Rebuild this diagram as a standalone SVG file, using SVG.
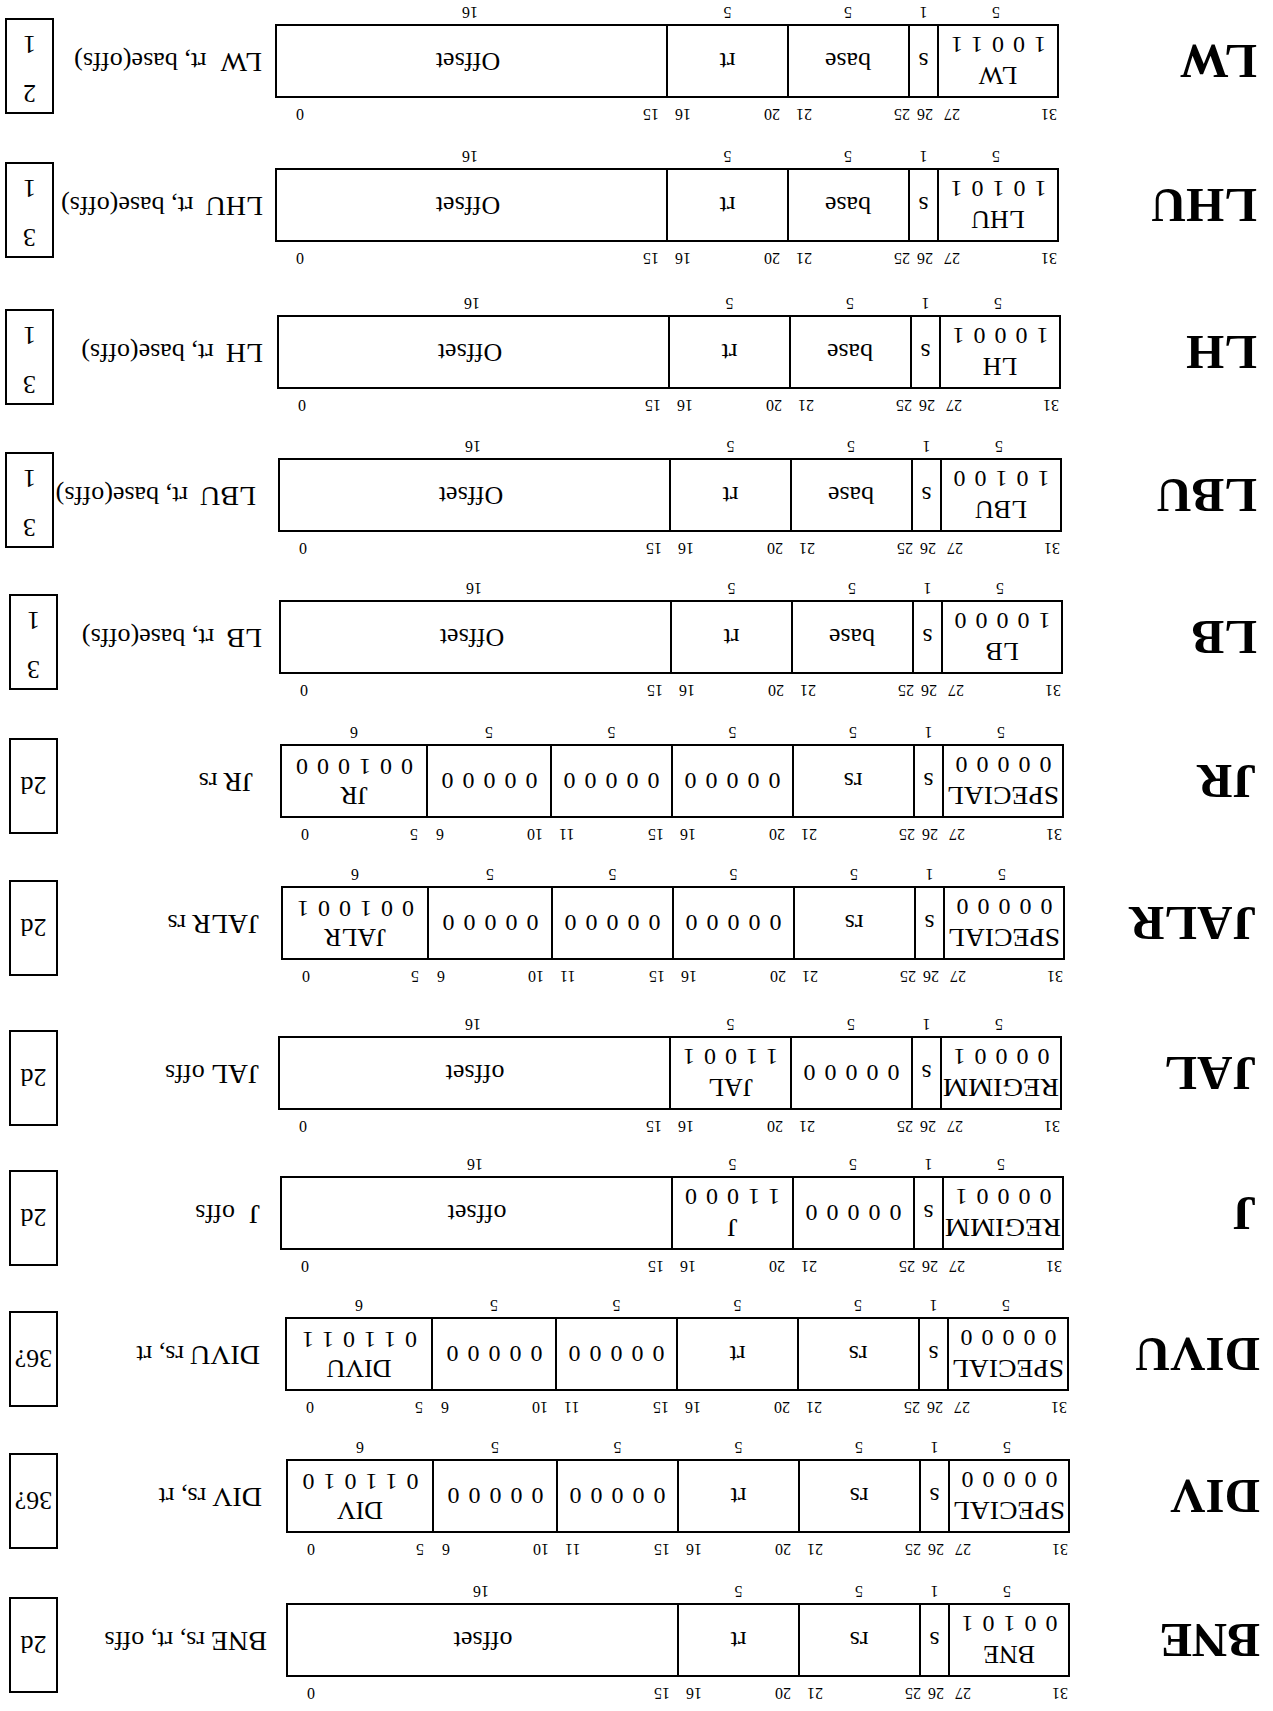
<svg xmlns="http://www.w3.org/2000/svg" width="1273" height="1711" viewBox="0 0 1273 1711">
<style>
.b{fill:none;stroke:#000;stroke-width:2}
text{font-family:"Liberation Serif","Times New Roman",serif;fill:#000}
.f{font-size:26px;text-anchor:middle}
.d{font-size:24px;letter-spacing:9px;text-anchor:middle}
.bn{font-size:16px}
.e{text-anchor:end}
.c{text-anchor:middle}
.w{font-size:16px;text-anchor:middle}
.m{font-size:49px;font-weight:bold}
.a{font-size:28px}
.o{font-size:26px}
.nb{font-size:26px;text-anchor:middle}
</style>
<defs>
<g id="frameI"><rect class="b" x="0" y="0" width="782" height="72"/><path class="b" d="M120 0V72M149 0V72M270 0V72M391 0V72"/></g>
<g id="frameR"><rect class="b" x="0" y="0" width="782" height="72"/><path class="b" d="M120 0V72M149 0V72M270 0V72M391 0V72M512 0V72M636 0V72"/></g>
</defs>
<g transform="rotate(180 636.5 855.5)">

<!-- BNE -->
<g id="BNE" transform="translate(0,35)">
<text class="m" x="13" y="52">BNE</text>
<g transform="translate(204,0)">
<use href="#frameI"/>
<text class="f" x="60" y="30">BNE</text><text class="d" x="64" y="60">00101</text>
<text class="f" x="134.5" y="44">s</text><text class="f" x="210" y="44">rs</text><text class="f" x="330.5" y="44">rt</text><text class="f" x="586" y="44">offset</text>
<text class="bn" x="1" y="-12">31</text><text class="bn e" x="114" y="-12">27</text><text class="bn c" x="133" y="-12">26</text><text class="bn" x="148" y="-12">25</text><text class="bn e" x="262" y="-12">21</text><text class="bn" x="278" y="-12">20</text><text class="bn e" x="383" y="-12">16</text><text class="bn" x="399" y="-12">15</text><text class="bn c" x="758" y="-12">0</text>
<text class="w" x="62" y="90">5</text><text class="w" x="134.5" y="90">1</text><text class="w" x="210" y="90">5</text><text class="w" x="330.5" y="90">5</text><text class="w" x="588" y="90">16</text>
</g>
<text class="a" x="1006" y="44">BNE<tspan class="o" dx="6">rs, rt, offs</tspan></text>
<rect class="b" x="1216" y="-16" width="47" height="94"/><text class="nb" x="1239.5" y="40">2d</text>
</g>

<!-- DIV -->
<g id="DIV" transform="translate(0,179)">
<text class="m" x="13" y="52">DIV</text>
<g transform="translate(204,0)">
<use href="#frameR"/>
<text class="f" x="60" y="30" textLength="112" lengthAdjust="spacingAndGlyphs">SPECIAL</text><text class="d" x="64" y="60">00000</text>
<text class="f" x="134.5" y="44">s</text><text class="f" x="210" y="44">rs</text><text class="f" x="330.5" y="44">rt</text>
<text class="d" x="456" y="44">00000</text><text class="d" x="578" y="44">00000</text>
<text class="f" x="709" y="30">DIV</text><text class="d" x="713" y="58">011010</text>
<text class="bn" x="1" y="-12">31</text><text class="bn e" x="114" y="-12">27</text><text class="bn c" x="133" y="-12">26</text><text class="bn" x="148" y="-12">25</text><text class="bn e" x="262" y="-12">21</text><text class="bn" x="278" y="-12">20</text><text class="bn e" x="383" y="-12">16</text><text class="bn" x="399" y="-12">15</text><text class="bn e" x="504" y="-12">11</text><text class="bn" x="520" y="-12">10</text><text class="bn e" x="627" y="-12">6</text><text class="bn" x="645" y="-12">5</text><text class="bn c" x="758" y="-12">0</text>
<text class="w" x="62" y="90">5</text><text class="w" x="134.5" y="90">1</text><text class="w" x="210" y="90">5</text><text class="w" x="330.5" y="90">5</text><text class="w" x="451.5" y="90">5</text><text class="w" x="574" y="90">5</text><text class="w" x="709" y="90">6</text>
</g>
<text class="a" x="1011" y="44">DIV<tspan class="o" dx="6">rs, rt</tspan></text>
<rect class="b" x="1216" y="-16" width="47" height="94"/><text class="nb" x="1239.5" y="40">36?</text>
</g>

<!-- DIVU -->
<g id="DIVU" transform="translate(0,321)">
<text class="m" x="13" y="52">DIVU</text>
<g transform="translate(205,0)">
<use href="#frameR"/>
<text class="f" x="60" y="30" textLength="112" lengthAdjust="spacingAndGlyphs">SPECIAL</text><text class="d" x="64" y="60">00000</text>
<text class="f" x="134.5" y="44">s</text><text class="f" x="210" y="44">rs</text><text class="f" x="330.5" y="44">rt</text>
<text class="d" x="456" y="44">00000</text><text class="d" x="578" y="44">00000</text>
<text class="f" x="709" y="30">DIVU</text><text class="d" x="713" y="58">011011</text>
<text class="bn" x="1" y="-12">31</text><text class="bn e" x="114" y="-12">27</text><text class="bn c" x="133" y="-12">26</text><text class="bn" x="148" y="-12">25</text><text class="bn e" x="262" y="-12">21</text><text class="bn" x="278" y="-12">20</text><text class="bn e" x="383" y="-12">16</text><text class="bn" x="399" y="-12">15</text><text class="bn e" x="504" y="-12">11</text><text class="bn" x="520" y="-12">10</text><text class="bn e" x="627" y="-12">6</text><text class="bn" x="645" y="-12">5</text><text class="bn c" x="758" y="-12">0</text>
<text class="w" x="62" y="90">5</text><text class="w" x="134.5" y="90">1</text><text class="w" x="210" y="90">5</text><text class="w" x="330.5" y="90">5</text><text class="w" x="451.5" y="90">5</text><text class="w" x="574" y="90">5</text><text class="w" x="709" y="90">6</text>
</g>
<text class="a" x="1013" y="44">DIVU<tspan class="o" dx="6">rs, rt</tspan></text>
<rect class="b" x="1216" y="-16" width="47" height="94"/><text class="nb" x="1239.5" y="40">36?</text>
</g>

<!-- J -->
<g id="J" transform="translate(0,462)">
<text class="m" x="16" y="52">J</text>
<g transform="translate(210,0)">
<use href="#frameI"/>
<text class="f" x="60" y="30" textLength="116" lengthAdjust="spacingAndGlyphs">REGIMM</text><text class="d" x="64" y="60">00001</text>
<text class="f" x="134.5" y="44">s</text><text class="d" x="214" y="44">00000</text>
<text class="f" x="330.5" y="30">J</text><text class="d" x="335" y="60">11000</text>
<text class="f" x="586" y="44">offset</text>
<text class="bn" x="1" y="-12">31</text><text class="bn e" x="114" y="-12">27</text><text class="bn c" x="133" y="-12">26</text><text class="bn" x="148" y="-12">25</text><text class="bn e" x="262" y="-12">21</text><text class="bn" x="278" y="-12">20</text><text class="bn e" x="383" y="-12">16</text><text class="bn" x="399" y="-12">15</text><text class="bn c" x="758" y="-12">0</text>
<text class="w" x="62" y="90">5</text><text class="w" x="134.5" y="90">1</text><text class="w" x="210" y="90">5</text><text class="w" x="330.5" y="90">5</text><text class="w" x="588" y="90">16</text>
</g>
<text class="a" x="1013" y="44">J<tspan class="o" dx="14">offs</tspan></text>
<rect class="b" x="1216" y="-16" width="47" height="94"/><text class="nb" x="1239.5" y="40">2d</text>
</g>

<!-- JAL -->
<g id="JAL" transform="translate(0,602)">
<text class="m" x="16" y="52">JAL</text>
<g transform="translate(212,0)">
<use href="#frameI"/>
<text class="f" x="60" y="30" textLength="116" lengthAdjust="spacingAndGlyphs">REGIMM</text><text class="d" x="64" y="60">00001</text>
<text class="f" x="134.5" y="44">s</text><text class="d" x="214" y="44">00000</text>
<text class="f" x="330.5" y="30">JAL</text><text class="d" x="335" y="60">11001</text>
<text class="f" x="586" y="44">offset</text>
<text class="bn" x="1" y="-12">31</text><text class="bn e" x="114" y="-12">27</text><text class="bn c" x="133" y="-12">26</text><text class="bn" x="148" y="-12">25</text><text class="bn e" x="262" y="-12">21</text><text class="bn" x="278" y="-12">20</text><text class="bn e" x="383" y="-12">16</text><text class="bn" x="399" y="-12">15</text><text class="bn c" x="758" y="-12">0</text>
<text class="w" x="62" y="90">5</text><text class="w" x="134.5" y="90">1</text><text class="w" x="210" y="90">5</text><text class="w" x="330.5" y="90">5</text><text class="w" x="588" y="90">16</text>
</g>
<text class="a" x="1014" y="44">JAL<tspan class="o" dx="6">offs</tspan></text>
<rect class="b" x="1216" y="-16" width="47" height="94"/><text class="nb" x="1239.5" y="40">2d</text>
</g>

<!-- JALR -->
<g id="JALR" transform="translate(0,752)">
<text class="m" x="16" y="52">JALR</text>
<g transform="translate(209,0)">
<use href="#frameR"/>
<text class="f" x="60" y="30" textLength="112" lengthAdjust="spacingAndGlyphs">SPECIAL</text><text class="d" x="64" y="60">00000</text>
<text class="f" x="134.5" y="44">s</text><text class="f" x="210" y="44">rs</text><text class="d" x="335" y="44">00000</text>
<text class="d" x="456" y="44">00000</text><text class="d" x="578" y="44">00000</text>
<text class="f" x="709" y="30">JALR</text><text class="d" x="713" y="58">001001</text>
<text class="bn" x="1" y="-12">31</text><text class="bn e" x="114" y="-12">27</text><text class="bn c" x="133" y="-12">26</text><text class="bn" x="148" y="-12">25</text><text class="bn e" x="262" y="-12">21</text><text class="bn" x="278" y="-12">20</text><text class="bn e" x="383" y="-12">16</text><text class="bn" x="399" y="-12">15</text><text class="bn e" x="504" y="-12">11</text><text class="bn" x="520" y="-12">10</text><text class="bn e" x="627" y="-12">6</text><text class="bn" x="645" y="-12">5</text><text class="bn c" x="758" y="-12">0</text>
<text class="w" x="62" y="90">5</text><text class="w" x="134.5" y="90">1</text><text class="w" x="210" y="90">5</text><text class="w" x="330.5" y="90">5</text><text class="w" x="451.5" y="90">5</text><text class="w" x="574" y="90">5</text><text class="w" x="709" y="90">6</text>
</g>
<text class="a" x="1014" y="44">JALR<tspan class="o" dx="6">rs</tspan></text>
<rect class="b" x="1216" y="-16" width="47" height="94"/><text class="nb" x="1239.5" y="40">2d</text>
</g>

<!-- JR -->
<g id="JR" transform="translate(0,894)">
<text class="m" x="16" y="52">JR</text>
<g transform="translate(210,0)">
<use href="#frameR"/>
<text class="f" x="60" y="30" textLength="112" lengthAdjust="spacingAndGlyphs">SPECIAL</text><text class="d" x="64" y="60">00000</text>
<text class="f" x="134.5" y="44">s</text><text class="f" x="210" y="44">rs</text><text class="d" x="335" y="44">00000</text>
<text class="d" x="456" y="44">00000</text><text class="d" x="578" y="44">00000</text>
<text class="f" x="709" y="30">JR</text><text class="d" x="713" y="58">001000</text>
<text class="bn" x="1" y="-12">31</text><text class="bn e" x="114" y="-12">27</text><text class="bn c" x="133" y="-12">26</text><text class="bn" x="148" y="-12">25</text><text class="bn e" x="262" y="-12">21</text><text class="bn" x="278" y="-12">20</text><text class="bn e" x="383" y="-12">16</text><text class="bn" x="399" y="-12">15</text><text class="bn e" x="504" y="-12">11</text><text class="bn" x="520" y="-12">10</text><text class="bn e" x="627" y="-12">6</text><text class="bn" x="645" y="-12">5</text><text class="bn c" x="758" y="-12">0</text>
<text class="w" x="62" y="90">5</text><text class="w" x="134.5" y="90">1</text><text class="w" x="210" y="90">5</text><text class="w" x="330.5" y="90">5</text><text class="w" x="451.5" y="90">5</text><text class="w" x="574" y="90">5</text><text class="w" x="709" y="90">6</text>
</g>
<text class="a" x="1020" y="44">JR<tspan class="o" dx="6">rs</tspan></text>
<rect class="b" x="1216" y="-16" width="47" height="94"/><text class="nb" x="1239.5" y="40">2d</text>
</g>

<!-- LB -->
<g id="LB" transform="translate(0,1038)">
<text class="m" x="16" y="52">LB</text>
<g transform="translate(211,0)">
<use href="#frameI"/>
<text class="f" x="60" y="30">LB</text><text class="d" x="64" y="60">10000</text>
<text class="f" x="134.5" y="44">s</text><text class="f" x="210" y="44">base</text><text class="f" x="330.5" y="44">rt</text><text class="f" x="590" y="44">Offset</text>
<text class="bn" x="1" y="-12">31</text><text class="bn e" x="114" y="-12">27</text><text class="bn c" x="133" y="-12">26</text><text class="bn" x="148" y="-12">25</text><text class="bn e" x="262" y="-12">21</text><text class="bn" x="278" y="-12">20</text><text class="bn e" x="383" y="-12">16</text><text class="bn" x="399" y="-12">15</text><text class="bn c" x="758" y="-12">0</text>
<text class="w" x="62" y="90">5</text><text class="w" x="134.5" y="90">1</text><text class="w" x="210" y="90">5</text><text class="w" x="330.5" y="90">5</text><text class="w" x="588" y="90">16</text>
</g>
<text class="a" x="1011" y="44">LB<tspan class="o" dx="12">rt, base(offs)</tspan></text>
<rect class="b" x="1216" y="-16" width="47" height="94"/><text class="nb" x="1239.5" y="12">3</text><text class="nb" x="1239.5" y="61">1</text>
</g>

<!-- LBU -->
<g id="LBU" transform="translate(0,1180)">
<text class="m" x="16" y="52">LBU</text>
<g transform="translate(212,0)">
<use href="#frameI"/>
<text class="f" x="60" y="30">LBU</text><text class="d" x="64" y="60">10100</text>
<text class="f" x="134.5" y="44">s</text><text class="f" x="210" y="44">base</text><text class="f" x="330.5" y="44">rt</text><text class="f" x="590" y="44">Offset</text>
<text class="bn" x="1" y="-12">31</text><text class="bn e" x="114" y="-12">27</text><text class="bn c" x="133" y="-12">26</text><text class="bn" x="148" y="-12">25</text><text class="bn e" x="262" y="-12">21</text><text class="bn" x="278" y="-12">20</text><text class="bn e" x="383" y="-12">16</text><text class="bn" x="399" y="-12">15</text><text class="bn c" x="758" y="-12">0</text>
<text class="w" x="62" y="90">5</text><text class="w" x="134.5" y="90">1</text><text class="w" x="210" y="90">5</text><text class="w" x="330.5" y="90">5</text><text class="w" x="588" y="90">16</text>
</g>
<text class="a" x="1017" y="44">LBU<tspan class="o" dx="12">rt, base(offs)</tspan></text>
<rect class="b" x="1220" y="-16" width="47" height="94"/><text class="nb" x="1243.5" y="12">3</text><text class="nb" x="1243.5" y="61">1</text>
</g>

<!-- LH -->
<g id="LH" transform="translate(0,1323)">
<text class="m" x="16" y="52">LH</text>
<g transform="translate(213,0)">
<use href="#frameI"/>
<text class="f" x="60" y="30">LH</text><text class="d" x="64" y="60">10001</text>
<text class="f" x="134.5" y="44">s</text><text class="f" x="210" y="44">base</text><text class="f" x="330.5" y="44">rt</text><text class="f" x="590" y="44">Offset</text>
<text class="bn" x="1" y="-12">31</text><text class="bn e" x="114" y="-12">27</text><text class="bn c" x="133" y="-12">26</text><text class="bn" x="148" y="-12">25</text><text class="bn e" x="262" y="-12">21</text><text class="bn" x="278" y="-12">20</text><text class="bn e" x="383" y="-12">16</text><text class="bn" x="399" y="-12">15</text><text class="bn c" x="758" y="-12">0</text>
<text class="w" x="62" y="90">5</text><text class="w" x="134.5" y="90">1</text><text class="w" x="210" y="90">5</text><text class="w" x="330.5" y="90">5</text><text class="w" x="588" y="90">16</text>
</g>
<text class="a" x="1010" y="44">LH<tspan class="o" dx="12">rt, base(offs)</tspan></text>
<rect class="b" x="1220" y="-16" width="47" height="94"/><text class="nb" x="1243.5" y="12">3</text><text class="nb" x="1243.5" y="61">1</text>
</g>

<!-- LHU -->
<g id="LHU" transform="translate(0,1470)">
<text class="m" x="16" y="52">LHU</text>
<g transform="translate(215,0)">
<use href="#frameI"/>
<text class="f" x="60" y="30">LHU</text><text class="d" x="64" y="60">10101</text>
<text class="f" x="134.5" y="44">s</text><text class="f" x="210" y="44">base</text><text class="f" x="330.5" y="44">rt</text><text class="f" x="590" y="44">Offset</text>
<text class="bn" x="1" y="-12">31</text><text class="bn e" x="114" y="-12">27</text><text class="bn c" x="133" y="-12">26</text><text class="bn" x="148" y="-12">25</text><text class="bn e" x="262" y="-12">21</text><text class="bn" x="278" y="-12">20</text><text class="bn e" x="383" y="-12">16</text><text class="bn" x="399" y="-12">15</text><text class="bn c" x="758" y="-12">0</text>
<text class="w" x="62" y="90">5</text><text class="w" x="134.5" y="90">1</text><text class="w" x="210" y="90">5</text><text class="w" x="330.5" y="90">5</text><text class="w" x="588" y="90">16</text>
</g>
<text class="a" x="1010" y="44">LHU<tspan class="o" dx="12">rt, base(offs)</tspan></text>
<rect class="b" x="1220" y="-16" width="47" height="94"/><text class="nb" x="1243.5" y="12">3</text><text class="nb" x="1243.5" y="61">1</text>
</g>

<!-- LW -->
<g id="LW" transform="translate(0,1614)">
<text class="m" x="16" y="52">LW</text>
<g transform="translate(215,0)">
<use href="#frameI"/>
<text class="f" x="60" y="30">LW</text><text class="d" x="64" y="60">10011</text>
<text class="f" x="134.5" y="44">s</text><text class="f" x="210" y="44">base</text><text class="f" x="330.5" y="44">rt</text><text class="f" x="590" y="44">Offset</text>
<text class="bn" x="1" y="-12">31</text><text class="bn e" x="114" y="-12">27</text><text class="bn c" x="133" y="-12">26</text><text class="bn" x="148" y="-12">25</text><text class="bn e" x="262" y="-12">21</text><text class="bn" x="278" y="-12">20</text><text class="bn e" x="383" y="-12">16</text><text class="bn" x="399" y="-12">15</text><text class="bn c" x="758" y="-12">0</text>
<text class="w" x="62" y="90">5</text><text class="w" x="134.5" y="90">1</text><text class="w" x="210" y="90">5</text><text class="w" x="330.5" y="90">5</text><text class="w" x="588" y="90">16</text>
</g>
<text class="a" x="1011" y="44">LW<tspan class="o" dx="14">rt, base(offs)</tspan></text>
<rect class="b" x="1220" y="-16" width="47" height="94"/><text class="nb" x="1243.5" y="12">2</text><text class="nb" x="1243.5" y="61">1</text>
</g>

</g>
</svg>
